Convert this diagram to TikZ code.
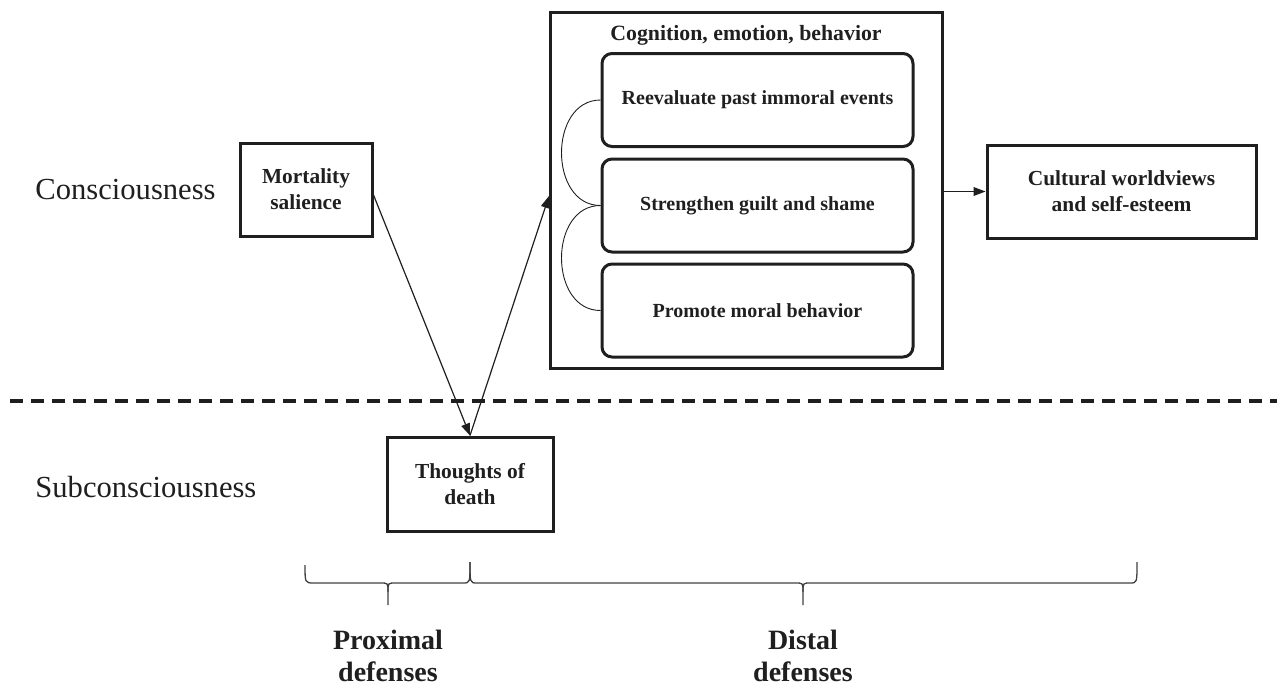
\documentclass[tikz,border=0pt]{standalone}
\usepackage{fontspec}
\setmainfont{Liberation Serif}
\usetikzlibrary{arrows.meta,calc}
\begin{document}
\begin{tikzpicture}[x=0.5pt,y=-0.5pt,
  bx/.style={draw=black!88,line width=1.5pt,align=center,inner sep=0pt,font=\fontsize{10.7}{13}\selectfont\bfseries,text=black!88},
  inbx/.style={bx,rounded corners=5pt,font=\fontsize{10}{12}\selectfont\bfseries},
  conn/.style={draw=black!88,line width=0.6pt,-{Triangle[length=6pt,width=4.4pt]}},
  arcl/.style={draw=black!88,line width=0.45pt},
  brc/.style={draw=black!75,line width=0.65pt},
  lvl/.style={anchor=west,inner sep=0pt,font=\fontsize{15.3}{18}\selectfont,text=black!88},
  dlab/.style={align=center,inner sep=0pt,font=\fontsize{14}{16}\selectfont\bfseries,text=black!88}]
\useasboundingbox (0,0) rectangle (1277,687);
% level labels
\node[lvl] (cons) at (35,190) {Consciousness};
\node[lvl] (subc) at (35,487) {Subconsciousness};
% dashed separator
\coordinate (dl) at (10,401);
\coordinate (dr) at (1277,401);
\draw[draw=black!88,line width=2.1pt,dash pattern=on 6.5pt off 4pt] (dl) -- (dr);
% boxes
\node[bx,minimum width=66pt,minimum height=46.5pt] (ms) at (306,189.5) {Mortality\\salience};
\node[bx,minimum width=83pt,minimum height=47pt] (td) at (470,484) {Thoughts of\\death};
\node[bx,minimum width=196pt,minimum height=178pt] (big) at (746.5,190) {};
\node[inner sep=0pt,font=\fontsize{10.9}{13}\selectfont\bfseries,text=black!88] (ttl) at (746,35) {Cognition, emotion, behavior};
\node[inbx,minimum width=155.5pt,minimum height=46.5pt] (b1) at (757.5,100) {Reevaluate past immoral events};
\node[inbx,minimum width=155.5pt,minimum height=46.5pt] (b2) at (757.5,205.5) {Strengthen guilt and shame};
\node[inbx,minimum width=155.5pt,minimum height=46.5pt] (b3) at (757.5,310.5) {Promote moral behavior};
\node[bx,minimum width=134.5pt,minimum height=46.5pt] (cw) at (1121.5,191.5) {Cultural worldviews\\and self-esteem};
% arcs linking inner boxes
\draw[arcl] (b1.west) .. controls ($(b1.west)+(-52,0)$) and ($(b2.west)+(-52,0)$) .. (b2.west);
\draw[arcl] (b2.west) .. controls ($(b2.west)+(-52,0)$) and ($(b3.west)+(-52,0)$) .. (b3.west);
% arrows
\coordinate (msout) at ($(ms.east)+(0,5.5)$);
\coordinate (bigin) at ($(big.west)+(0,6)$);
\draw[conn] (msout) -- (td.north);
\draw[conn] (td.north) -- (bigin);
\draw[conn] (big.east |- cw.west) -- (cw.west);
% braces
\coordinate (p1) at (305,565);
\coordinate (p2) at (470,562);
\coordinate (pt) at (388,605);
\coordinate (d2) at (1137,562);
\coordinate (dt) at (803,605);
\draw[brc] (p1) .. controls (305,583) .. (314,583) -- (381,583) .. controls (388,583) .. (388,592) -- (pt);
\draw[brc] (388,592) .. controls (388,583) .. (395,583) -- (463,583) .. controls (470,583) .. (p2);
\draw[brc] (p2) .. controls (470,583) .. (477,583) -- (796,583) .. controls (803,583) .. (803,592) -- (dt);
\draw[brc] (803,592) .. controls (803,583) .. (810,583) -- (1130,583) .. controls (1137,583) .. (d2);
% brace labels
\node[dlab] (prox) at (388,656) {Proximal\\defenses};
\node[dlab] (dist) at (803,656) {Distal\\defenses};
\end{tikzpicture}
\end{document}
